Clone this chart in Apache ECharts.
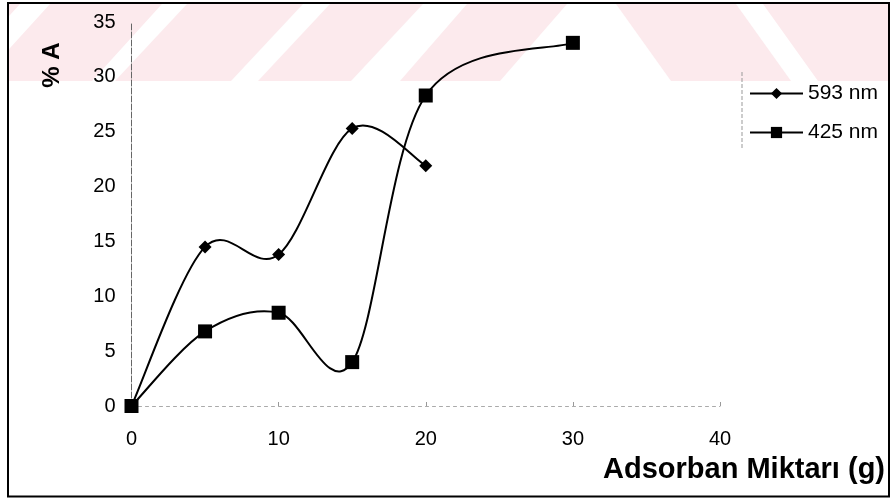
<!DOCTYPE html>
<html><head><meta charset="utf-8">
<script src="https://cdn.jsdelivr.net/npm/echarts@6/dist/echarts.min.js"></script>
<style>html,body{margin:0;padding:0;background:#fff}#c{width:893px;height:501px}</style>
</head><body><div id="c"></div>
<script>
const xTicks = [0, 10, 20, 30, 40];
const yTicks = [0, 5, 10, 15, 20, 25, 30, 35];
const seriesNames = ['593 nm', '425 nm'];
const xTitle = 'Adsorban Miktarı (g)';
const yTitle = '% A';
const x593 = [0, 5, 10, 15, 20];
const y593 = [0, 14.5, 13.8, 25.3, 21.9];
const x425 = [0, 5, 10, 15, 20, 30];
const y425 = [0, 6.8, 8.5, 4.0, 28.3, 33.1];

const chart = echarts.init(document.getElementById('c'), null, {renderer: 'canvas'});
const font = 'Liberation Sans, Arial, sans-serif';

// faint pink diagonal watermark bands at the top (scan artifact)
const pink = '#fceaed';
const wmTop = 4, wmBot = 81;
const wm = [];
// [topLeft, topRight, shift]  (bottom = top + shift)
[[-30, 20, -70], [50, 162, -70], [187, 303, -72], [330, 423, -72], [467, 567, -67], [616, 736, 55], [763, 900, 55]].forEach(function (b) {
  wm.push({type: 'polygon', shape: {points: [[b[0], wmTop], [b[1], wmTop], [b[1] + b[2], wmBot], [b[0] + b[2], wmBot]]}, style: {fill: pink}, silent: true, z: -10});
});
wm.push({type: 'rect', shape: {x: 0, y: 0, width: 8, height: 501}, style: {fill: '#fff'}, silent: true, z: 50});
wm.push({type: 'rect', shape: {x: 889, y: 0, width: 4, height: 501}, style: {fill: '#fff'}, silent: true, z: 50});

// smooth curve through the data points (Catmull-Rom style bezier, like the original spreadsheet chart)
function curveRenderer(xs, ys) {
  return function (params, api) {
    if (params.dataIndex !== 0) return null;
    const p = xs.map(function (x, i) { return api.coord([x, ys[i]]); });
    const children = [];
    for (let i = 0; i < p.length - 1; i++) {
      const p0 = p[Math.max(i - 1, 0)], p1 = p[i], p2 = p[i + 1], p3 = p[Math.min(i + 2, p.length - 1)];
      children.push({
        type: 'bezierCurve',
        shape: {
          x1: p1[0], y1: p1[1], x2: p2[0], y2: p2[1],
          cpx1: p1[0] + (p2[0] - p0[0]) / 6, cpy1: p1[1] + (p2[1] - p0[1]) / 6,
          cpx2: p2[0] - (p3[0] - p1[0]) / 6, cpy2: p2[1] - (p3[1] - p1[1]) / 6
        },
        style: {stroke: '#000', lineWidth: 2, fill: null}
      });
    }
    return {type: 'group', children: children};
  };
}

chart.setOption({
  animation: false,
  backgroundColor: '#fff',
  grid: {left: 131.5, right: 173, top: 22, bottom: 95, containLabel: false},
  xAxis: {
    type: 'value', min: xTicks[0], max: xTicks[xTicks.length - 1], interval: 10,
    axisLine: {show: true, lineStyle: {color: '#aaa', width: 1, type: [3, 4]}},
    axisTick: {show: true, length: 4, inside: true, lineStyle: {color: '#999'}},
    axisLabel: {fontFamily: font, fontSize: 20, color: '#000', margin: 23},
    splitLine: {show: false}
  },
  yAxis: {
    type: 'value', min: yTicks[0], max: yTicks[yTicks.length - 1], interval: 5,
    axisLine: {show: true, lineStyle: {color: '#666', width: 1, type: [6, 2]}},
    axisTick: {show: false},
    axisLabel: {fontFamily: font, fontSize: 20, color: '#000', margin: 16},
    splitLine: {show: false}
  },
  legend: {
    orient: 'vertical', left: 744, top: 78, itemGap: 18,
    itemWidth: 53, itemHeight: 14,
    textStyle: {fontFamily: font, fontSize: 21, color: '#000'},
    lineStyle: {color: '#000', width: 2, opacity: 1},
    data: seriesNames
  },
  series: [
    {
      name: seriesNames[0] + ' curve', type: 'custom', renderItem: curveRenderer(x593, y593),
      data: x593.map(function (x, i) { return [x, y593[i]]; }), encode: {x: 0, y: 1}, clip: false, z: 2, silent: true
    },
    {
      name: seriesNames[1] + ' curve', type: 'custom', renderItem: curveRenderer(x425, y425),
      data: x425.map(function (x, i) { return [x, y425[i]]; }), encode: {x: 0, y: 1}, clip: false, z: 2, silent: true
    },
    {
      name: seriesNames[0], type: 'line',
      symbol: 'diamond', symbolSize: 13,
      lineStyle: {color: '#000', width: 2, opacity: 0},
      itemStyle: {color: '#000'}, z: 3,
      data: x593.map(function (x, i) { return [x, y593[i]]; })
    },
    {
      name: seriesNames[1], type: 'line',
      symbol: 'rect', symbolSize: 14,
      lineStyle: {color: '#000', width: 2, opacity: 0},
      itemStyle: {color: '#000'}, z: 3,
      data: x425.map(function (x, i) { return [x, y425[i]]; })
    }
  ],
  graphic: wm.concat([
    {type: 'rect', shape: {x: 8, y: 3, width: 881, height: 493.5}, style: {fill: null, stroke: '#000', lineWidth: 2}, silent: true, z: 100},
    {type: 'line', shape: {x1: 742, y1: 72, x2: 742, y2: 150}, style: {stroke: '#999', lineWidth: 1, lineDash: [4, 2]}, silent: true},
    {type: 'text', x: 52, y: 65, rotation: Math.PI / 2, style: {text: yTitle, font: 'bold 24px Liberation Sans, Arial, sans-serif', fill: '#000', align: 'center', verticalAlign: 'middle'}, silent: true},
    {type: 'text', x: 885, y: 470, style: {text: xTitle, font: 'bold 29px Liberation Sans, Arial, sans-serif', fill: '#000', align: 'right', verticalAlign: 'middle'}, silent: true}
  ])
});
</script></body></html>
